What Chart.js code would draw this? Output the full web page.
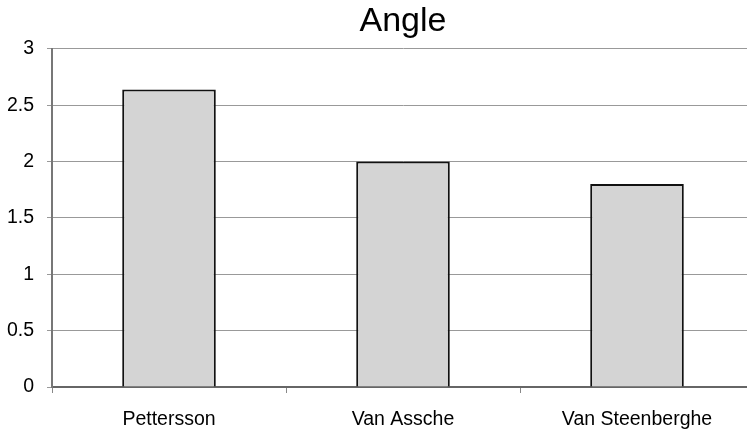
<!DOCTYPE html>
<html>
<head>
<meta charset="utf-8">
<title>Angle</title>
<script src="https://cdn.jsdelivr.net/npm/chart.js@4/dist/chart.umd.min.js"></script>
<style>
  html, body { margin: 0; padding: 0; background: #fff; overflow: hidden; }
  #wrap { width: 747px; height: 432px; overflow: hidden; }
</style>
</head>
<body>
<div id="wrap"><canvas id="chart" width="760" height="432"></canvas></div>
<script>
// data
const categories = ['Pettersson', 'Van Assche', 'Van Steenberghe'];
const angleValues = [2.64, 2.0, 1.8];
const yTicks = [0, 0.5, 1, 1.5, 2, 2.5, 3];

const FONT = "'Liberation Sans', Arial, sans-serif";

const ctx = document.getElementById('chart').getContext('2d');
new Chart(ctx, {
  type: 'bar',
  data: {
    labels: categories,
    datasets: [{
      label: 'Angle',
      data: angleValues,
      backgroundColor: '#d4d4d4',
      borderColor: '#111',
      borderWidth: 2,
      categoryPercentage: 1,
      barPercentage: 0.4
    }]
  },
  options: {
    responsive: false,
    animation: false,
    layout: { padding: { left: 0, right: 6, top: 0, bottom: 0 } },
    plugins: {
      legend: { display: false },
      tooltip: { enabled: false },
      title: {
        display: true,
        text: 'Angle',
        fullSize: false,
        color: '#000',
        font: { family: FONT, size: 34, weight: 'normal' },
        padding: { top: 1, bottom: 7 }
      }
    },
    scales: {
      x: {
        offset: true,
        grid: {
          offset: true,
          drawOnChartArea: false,
          drawTicks: true,
          tickLength: 6,
          color: '#888'
        },
        border: { color: '#666', width: 2 },
        ticks: {
          color: '#000',
          padding: 15,
          maxRotation: 0,
          font: { family: FONT, size: 19.5 }
        },
        afterFit: (s) => { s.height = 45; }
      },
      y: {
        min: 0,
        max: 3,
        afterBuildTicks: (s) => { s.ticks = yTicks.map(v => ({ value: v })); },
        grid: {
          color: '#999',
          lineWidth: 1,
          tickLength: 5
        },
        border: { color: '#777', width: 2 },
        ticks: {
          color: '#000',
          padding: 13,
          font: { family: FONT, size: 19.5 },
          callback: (v) => String(v)
        },
        afterFit: (s) => { s.width = 52; }
      }
    }
  }
});
</script>
</body>
</html>
